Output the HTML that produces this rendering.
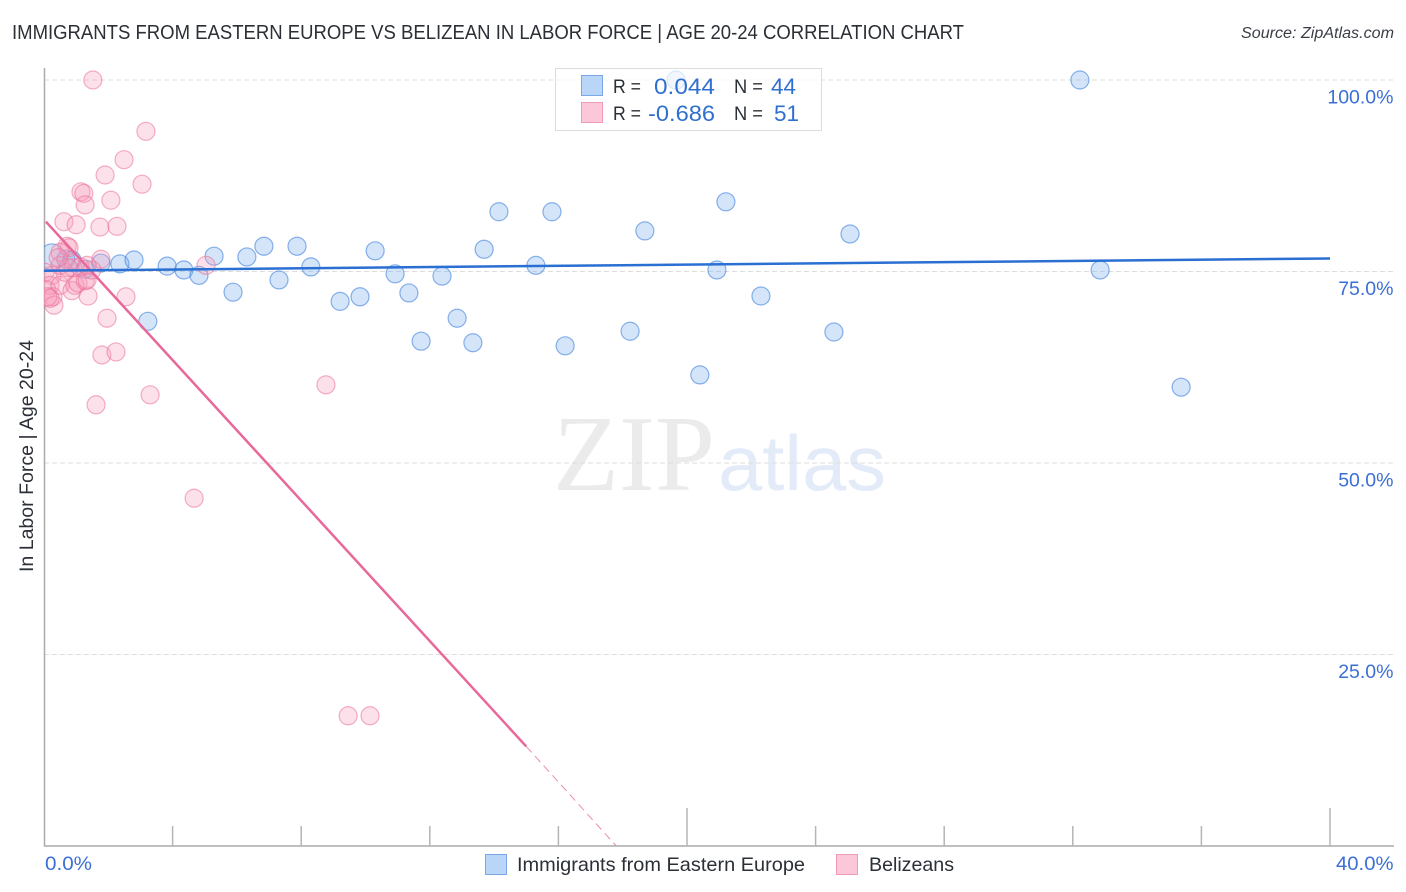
<!DOCTYPE html>
<html lang="en">
<head>
<meta charset="utf-8">
<title>Immigrants from Eastern Europe vs Belizean in Labor Force | Age 20-24 Correlation Chart</title>
<style>
html,body{margin:0;padding:0;background:#fff;width:1406px;height:892px;overflow:hidden}
svg{display:block}
text{font-family:"Liberation Sans",sans-serif}
.tick{fill:#3b6fd4;font-size:19.5px}
.dark{fill:#2b2f36}
.stat{fill:#2f6fd0;font-size:22.5px}
</style>
</head>
<body>
<svg id="chart" width="1406" height="892" viewBox="0 0 1406 892" xmlns="http://www.w3.org/2000/svg">
  <defs>
    <clipPath id="plot-clip"><rect x="44" y="60" width="1350" height="786"/></clipPath>
  </defs>
  <text class="dark" x="12" y="39" font-size="20" textLength="952" lengthAdjust="spacingAndGlyphs">IMMIGRANTS FROM EASTERN EUROPE VS BELIZEAN IN LABOR FORCE | AGE 20-24 CORRELATION CHART</text>
  <text x="1241" y="38" font-size="15.5" font-style="italic" fill="#3a3f46" textLength="153" lengthAdjust="spacingAndGlyphs">Source: ZipAtlas.com</text>
  <text class="dark" transform="translate(33 456) rotate(-90)" font-size="19" text-anchor="middle" textLength="232" lengthAdjust="spacingAndGlyphs">In Labor Force | Age 20-24</text>

  <g>
    <text x="553" y="490" font-size="108" fill="#ebebeb" textLength="162" lengthAdjust="spacingAndGlyphs" style="font-family:'Liberation Serif',serif">ZIP</text>
    <text x="718" y="490" font-size="78" fill="#e3ebf9" textLength="168" lengthAdjust="spacingAndGlyphs">atlas</text>
  </g>

  <g id="grid"></g>
  <g id="axes"></g>
  <g id="points" clip-path="url(#plot-clip)"></g>
  <g id="lines"></g>
  <g id="labels"></g>

  <g>
    <rect x="555.5" y="68.5" width="266" height="62" fill="#fff" fill-opacity="0.7" stroke="#dcdcdc" stroke-width="1"/>
    <rect x="581.5" y="75.5" width="21" height="20" fill="#b9d5f8" stroke="#7aa7e6"/>
    <rect x="581.5" y="102.5" width="21" height="20" fill="#fcc8d9" stroke="#f09ab8"/>
    <text class="dark" x="613" y="93" font-size="19" textLength="28" lengthAdjust="spacingAndGlyphs">R =</text>
    <text class="stat" x="654" y="94" textLength="61" lengthAdjust="spacingAndGlyphs">0.044</text>
    <text class="dark" x="734" y="93" font-size="19" textLength="29" lengthAdjust="spacingAndGlyphs">N =</text>
    <text class="stat" x="771" y="94" textLength="25" lengthAdjust="spacingAndGlyphs">44</text>
    <text class="dark" x="613" y="120" font-size="19" textLength="28" lengthAdjust="spacingAndGlyphs">R =</text>
    <text class="stat" x="648" y="121" textLength="67" lengthAdjust="spacingAndGlyphs">-0.686</text>
    <text class="dark" x="734" y="120" font-size="19" textLength="29" lengthAdjust="spacingAndGlyphs">N =</text>
    <text class="stat" x="774" y="121">51</text>
  </g>

  <g>
    <rect x="485.5" y="854.5" width="21" height="20" fill="#b9d5f8" stroke="#7aa7e6"/>
    <text class="dark" x="517" y="871" font-size="19.5" textLength="288" lengthAdjust="spacingAndGlyphs">Immigrants from Eastern Europe</text>
    <rect x="836.5" y="854.5" width="21" height="20" fill="#fcc8d9" stroke="#f09ab8"/>
    <text class="dark" x="869" y="871" font-size="19.5" textLength="85" lengthAdjust="spacingAndGlyphs">Belizeans</text>
  </g>
</svg>
<script>
const blueX = [0.25,0.68,0.87,1.28,1.77,2.36,2.80,3.83,4.35,4.82,5.29,5.88,3.23,6.31,6.84,7.31,7.87,8.30,9.21,9.83,10.30,10.92,11.35,11.73,12.38,12.85,13.34,13.69,14.15,15.30,15.80,16.21,18.23,18.69,19.66,20.40,20.93,21.21,22.30,24.57,25.07,32.22,32.85,35.37];
const blueY = [76.9,76.6,76.5,75.3,76.1,76.0,76.5,75.7,75.2,74.5,77.0,72.3,68.5,76.9,78.3,73.9,78.3,75.6,71.1,71.7,77.7,74.7,72.2,65.9,74.4,68.9,65.7,77.9,82.8,75.8,82.8,65.3,67.2,80.3,100,61.5,75.2,84.1,71.8,67.1,79.9,100,75.2,59.9];
const pinkX = [1.52,3.17,2.49,1.90,3.05,1.15,1.24,1.28,2.08,0.62,1.00,1.74,2.27,0.72,0.78,0.50,1.77,5.04,2.55,1.37,1.96,1.80,2.24,1.62,3.30,8.77,4.67,9.46,10.14,0.03,0.25,0.19,0.09,0.28,0.31,0.19,0.50,0.65,0.87,0.96,1.06,0.90,1.28,1.34,1.49,1.12,0.50,0.75,0.44,1.34,0.12];
const pinkY = [100,93.3,89.6,87.6,86.4,85.4,85.2,83.7,84.3,81.5,81.1,80.8,80.9,78.3,78.1,77.5,76.6,75.8,71.7,71.8,68.9,64.1,64.5,57.6,58.9,60.2,45.4,17.0,17.0,74.9,74.5,73.2,72.6,71.7,70.6,71.5,73.2,74.9,72.5,73.2,73.5,75.5,73.8,73.9,75.2,75.6,75.8,75.5,76.8,75.8,71.7];
const blueTrendX = [0,40];
const blueTrendY = [75.1,76.7];
const pinkTrendX = [0.06,15.0];
const pinkTrendY = [81.5,13.0];
const pinkDashX = [15.0,17.8];
const pinkDashY = [13.0,0];
const xTickValues = [0,4,8,12,16,20,24,28,32,36,40];
const majorXTicks = [0,20,40];
const yGridValues = [100,75,50,25];
const yTickLabels = ["100.0%","75.0%","50.0%","25.0%"];
const xTickLabels = ["0.0%","40.0%"];

const NS = "http://www.w3.org/2000/svg";
function sx(v){ return 44 + v / 40 * 1286; }
function sy(v){ return 846 - v / 100 * 766; }
function make(tag, attrs, parent){
  const el = document.createElementNS(NS, tag);
  for (const k in attrs) el.setAttribute(k, attrs[k]);
  parent.appendChild(el);
  return el;
}
const gridG = document.getElementById('grid');
const axesG = document.getElementById('axes');
const pointsG = document.getElementById('points');
const linesG = document.getElementById('lines');
const labelsG = document.getElementById('labels');

yGridValues.forEach(function(v, i){
  const l = make('line', {x1:44, x2:1394, y1:sy(v), y2:sy(v), stroke:'#dddddd', 'stroke-width':1, 'stroke-dasharray':'5 3'}, gridG);
  
  
  const t = make('text', {x:1393.5, y:sy(v) + 23.5, 'text-anchor':'end', class:'tick'}, labelsG);
  t.textContent = yTickLabels[i];
  
  
});

const yAxis = make('line', {x1:44.5, x2:44.5, y1:68, y2:846.5, stroke:'#aaaaaa', 'stroke-width':1.5}, axesG);


const xAxis = make('line', {x1:44, x2:1394, y1:846, y2:846, stroke:'#aaaaaa', 'stroke-width':1.5}, axesG);


xTickValues.forEach(function(v){
  if (v === 0) return;
  const top = majorXTicks.indexOf(v) >= 0 ? 808 : 826;
  const tk = make('line', {x1:sx(v), x2:sx(v), y1:top, y2:846, stroke:'#b5b5b5', 'stroke-width':1.5}, axesG);
  
  
});
const xl0 = make('text', {x:45, y:870, class:'tick', textLength:47, lengthAdjust:'spacingAndGlyphs'}, labelsG);
xl0.textContent = xTickLabels[0];


const xl1 = make('text', {x:1336, y:870, class:'tick', textLength:57.5, lengthAdjust:'spacingAndGlyphs'}, labelsG);
xl1.textContent = xTickLabels[1];



blueX.forEach(function(v, i){
  const c = make('circle', {cx:sx(v), cy:sy(blueY[i]), r:i === 0 ? 13 : 9, fill:'#70a8ee', 'fill-opacity':0.3, stroke:'#3f80dc', 'stroke-opacity':0.6, 'stroke-width':1.2}, pointsG);
  
  
});
pinkX.forEach(function(v, i){
  const c = make('circle', {cx:sx(v), cy:sy(pinkY[i]), r:9, fill:'#f89ab8', 'fill-opacity':0.3, stroke:'#ea6f98', 'stroke-opacity':0.55, 'stroke-width':1.2}, pointsG);
  
  
});

const pinkSolid = make('line', {x1:sx(pinkTrendX[0]), y1:sy(pinkTrendY[0]), x2:sx(pinkTrendX[1]), y2:sy(pinkTrendY[1]), stroke:'#e8689a', 'stroke-width':2.5}, linesG);


const pinkDash = make('line', {x1:sx(pinkDashX[0]), y1:sy(pinkDashY[0]), x2:sx(pinkDashX[1]), y2:sy(pinkDashY[1]), stroke:'#ee8cb0', 'stroke-width':1, 'stroke-dasharray':'8 5'}, linesG);


const blueLine = make('line', {x1:sx(blueTrendX[0]), y1:sy(blueTrendY[0]), x2:sx(blueTrendX[1]), y2:sy(blueTrendY[1]), stroke:'#2a6fd2', 'stroke-width':2.5}, linesG);


</script>
</body>
</html>
